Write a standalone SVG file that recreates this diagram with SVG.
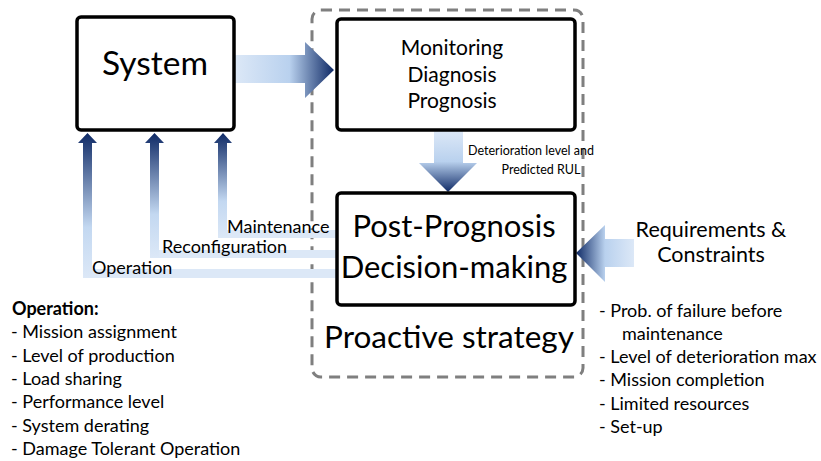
<svg xmlns="http://www.w3.org/2000/svg" width="821" height="461" viewBox="0 0 821 461">
<defs>
<linearGradient id="gRight" x1="0" y1="0" x2="1" y2="0">
<stop offset="0" stop-color="#dce8f7"/><stop offset="0.55" stop-color="#b9d1ee"/><stop offset="1" stop-color="#0f2a66"/>
</linearGradient>
<linearGradient id="gDown" x1="0" y1="0" x2="0" y2="1">
<stop offset="0" stop-color="#dce8f7"/><stop offset="0.5" stop-color="#b9d1ee"/><stop offset="1" stop-color="#0f2a66"/>
</linearGradient>
<linearGradient id="gLeft" x1="1" y1="0" x2="0" y2="0">
<stop offset="0" stop-color="#dce8f7"/><stop offset="0.5" stop-color="#b9d1ee"/><stop offset="1" stop-color="#0f2a66"/>
</linearGradient>
<linearGradient id="gUp" x1="0" y1="1" x2="0" y2="0">
<stop offset="0" stop-color="#dce8f7"/><stop offset="0.35" stop-color="#c3d8f1"/><stop offset="1" stop-color="#0f2a66"/>
</linearGradient>
<style>
.box{fill:#fff;stroke:#000;stroke-width:3.5}
.t{font-family:Lato,"Liberation Sans",sans-serif;fill:#000}
.bar{fill:#dce8f7}
.li{font-size:18px}
</style>
</defs>

<g id="container">
<rect x="312" y="10" width="271" height="367" rx="9" fill="none" stroke="#7f7f7f" stroke-width="3" stroke-dasharray="11,7"/>
<text class="t" x="449" y="348" font-size="31.5" text-anchor="middle">Proactive strategy</text>
</g>

<g id="connectors">
<!-- System to Monitoring -->
<path d="M235,55 H305 V42 L334,70 L305,98 V83 H235 Z" fill="url(#gRight)"/>
<!-- Monitoring to Post-Prognosis -->
<path d="M434,131 H463 V163 H477 L448,192 L419,163 H434 Z" fill="url(#gDown)"/>
<!-- Requirements to Post-Prognosis -->
<path d="M634,239 H605 V225 L576,253 L605,282 V267 H634 Z" fill="url(#gLeft)"/>
<!-- feedback bars -->
<rect class="bar" x="218" y="230" width="119" height="8"/>
<rect class="bar" x="150" y="250" width="187" height="8"/>
<rect class="bar" x="83" y="269" width="254" height="9"/>
<path d="M218,238 V143 H214 L223,133 L232,143 H227 V238 Z" fill="url(#gUp)"/>
<path d="M150,258 V143 H145 L154.5,133 L164,143 H159 V258 Z" fill="url(#gUp)"/>
<path d="M83,278 V143 H78 L87.5,133 L97,143 H92 V278 Z" fill="url(#gUp)"/>
<text class="t li" x="227" y="233">Maintenance</text>
<text class="t li" x="162" y="253">Reconfiguration</text>
<text class="t li" x="92" y="274">Operation</text>
<text class="t" x="531" y="155" font-size="12.5" text-anchor="middle">Deterioration level and</text>
<text class="t" x="541" y="174" font-size="12.5" text-anchor="middle">Predicted RUL</text>
</g>

<g id="system">
<rect class="box" x="77" y="17" width="157" height="113" rx="4"/>
<text class="t" x="155" y="75" font-size="33.5" text-anchor="middle">System</text>
</g>

<g id="monitoring">
<rect class="box" x="337" y="19" width="238" height="111" rx="4"/>
<text class="t" x="452" y="55" font-size="21" text-anchor="middle">Monitoring</text>
<text class="t" x="452" y="82" font-size="21" text-anchor="middle">Diagnosis</text>
<text class="t" x="452" y="108" font-size="21" text-anchor="middle">Prognosis</text>
</g>

<g id="decision">
<rect class="box" x="337" y="193" width="238" height="112" rx="4"/>
<text class="t" x="454" y="237" font-size="31" text-anchor="middle">Post-Prognosis</text>
<text class="t" x="454" y="278" font-size="31" text-anchor="middle">Decision-making</text>
</g>

<g id="requirements">
<text class="t" x="711" y="237" font-size="21.5" text-anchor="middle">Requirements &amp;</text>
<text class="t" x="711" y="262" font-size="21.5" text-anchor="middle">Constraints</text>
</g>

<g id="operation-list">
<text class="t li" x="12" y="315" font-weight="bold">Operation:</text>
<text class="t li" x="11" y="338">- Mission assignment</text>
<text class="t li" x="11" y="362">- Level of production</text>
<text class="t li" x="11" y="385">- Load sharing</text>
<text class="t li" x="11" y="408">- Performance level</text>
<text class="t li" x="11" y="432">- System derating</text>
<text class="t li" x="11" y="455">- Damage Tolerant Operation</text>
</g>

<g id="constraint-list">
<text class="t li" x="599" y="317">- Prob. of failure before</text>
<text class="t li" x="622" y="340">maintenance</text>
<text class="t li" x="599" y="363">- Level of deterioration max</text>
<text class="t li" x="599" y="386">- Mission completion</text>
<text class="t li" x="599" y="410">- Limited resources</text>
<text class="t li" x="599" y="433">- Set-up</text>
</g>
</svg>
